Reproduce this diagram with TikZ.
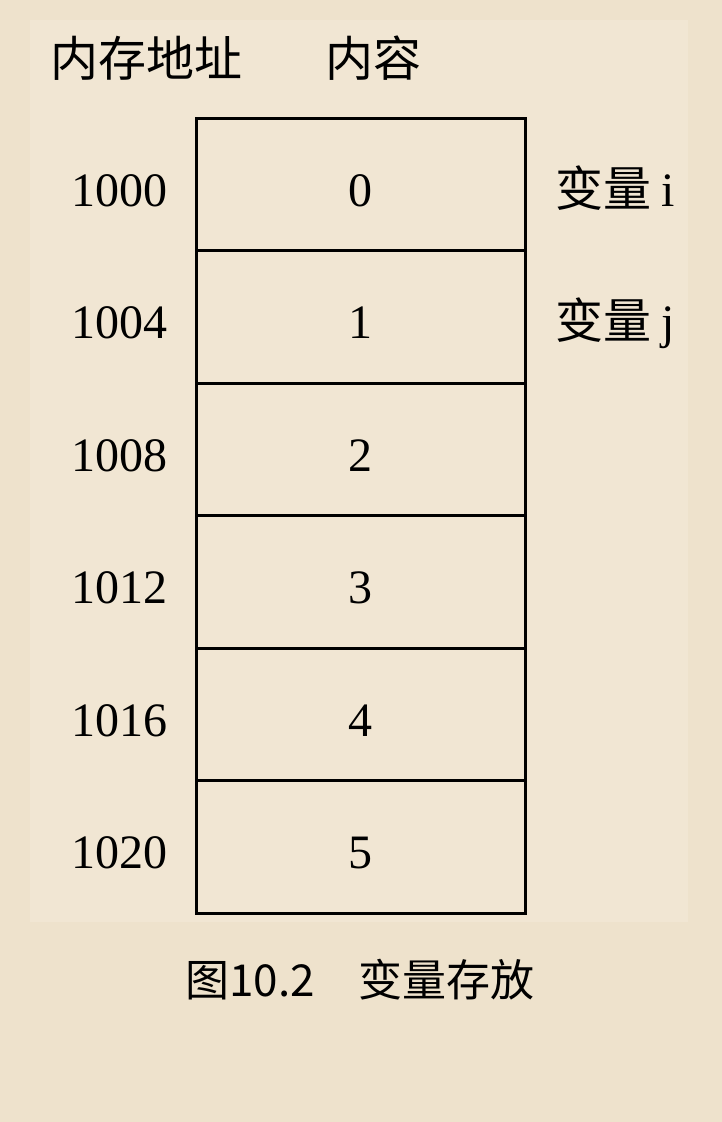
\documentclass[tikz,border=0pt]{standalone}
\usepackage{fontspec}
\setmainfont{Liberation Serif}
\newfontfamily\cjk{Noto Sans CJK SC}
\usepackage{tikz}
\usetikzlibrary{calc,positioning}
\definecolor{pagebg}{RGB}{238,226,204}
\definecolor{panelbg}{RGB}{241,230,211}
\newcommand\bigfont{\fontsize{48pt}{52pt}\selectfont}
\newcommand\cellheight{132.5}
\tikzstyle{memcell}=[rectangle,draw=black,line width=3pt,outer sep=0pt,inner sep=0pt,
                     minimum width=329pt,minimum height=\cellheight pt,
                     text height=44pt,text depth=0pt,font=\bigfont]
\tikzstyle{addrtext}=[inner sep=0pt,outer sep=0pt,text height=44pt,text depth=0pt,font=\bigfont]
\tikzstyle{vartext}=[inner sep=0pt,outer sep=0pt,text height=44pt,text depth=0pt,font=\bigfont\cjk]

\begin{document}
\begin{tikzpicture}[x=1pt,y=-1pt]
    	\fill [pagebg] (0,0) rectangle (722,1122);
    	\fill [panelbg] (30,20) rectangle (688,922);
    	% headings
    	\node [font=\bigfont\cjk] (addrHead) at (146,58) {内存地址};
    	\node [font=\bigfont\cjk] (valHead) at (373,58) {内容};
    	% memory cells
    	\node [memcell] (cell0) at ($(360.5,118)+(0,\cellheight*0.5)$) {0};
    	\node [memcell,below=0pt of cell0] (cell1) {1};
    	\node [memcell,below=0pt of cell1] (cell2) {2};
    	\node [memcell,below=0pt of cell2] (cell3) {3};
    	\node [memcell,below=0pt of cell3] (cell4) {4};
    	\node [memcell,below=0pt of cell4] (cell5) {5};
    	% addresses
    	\node [addrtext,left=29pt of cell0] (addr0) {1000};
    	\node [addrtext,left=29pt of cell1] (addr1) {1004};
    	\node [addrtext,left=29pt of cell2] (addr2) {1008};
    	\node [addrtext,left=29pt of cell3] (addr3) {1012};
    	\node [addrtext,left=29pt of cell4] (addr4) {1016};
    	\node [addrtext,left=29pt of cell5] (addr5) {1020};
    	% variables
    	\node [vartext,right=30pt of cell0] (varI) {变量 {\rmfamily i}};
    	\node [vartext,right=30pt of cell1] (varJ) {变量 {\rmfamily j}};
    	% caption
    	\node [font=\fontsize{44pt}{48pt}\selectfont\cjk] (caption) at (360,980) {图10.2\hspace{1em}变量存放};
    \end{tikzpicture}
\end{document}
